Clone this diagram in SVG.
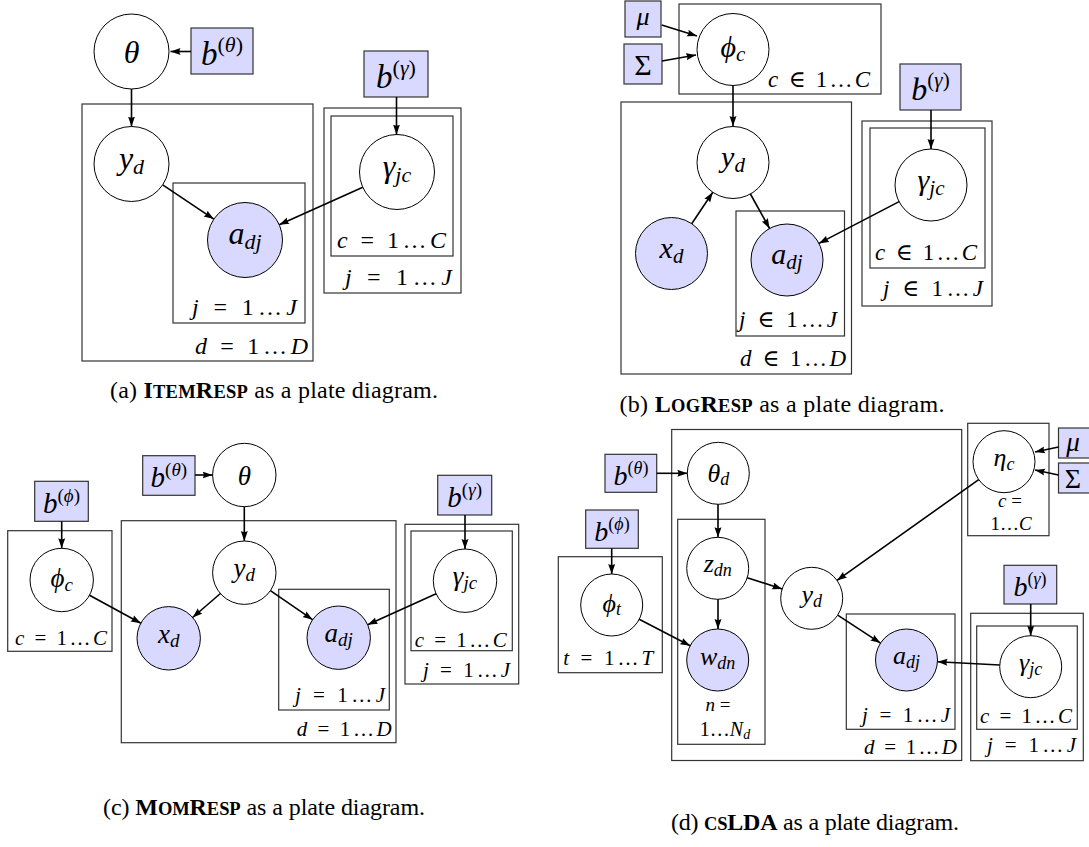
<svg xmlns="http://www.w3.org/2000/svg" width="1089" height="847" viewBox="0 0 1089 847">
<style>
.plate{fill:none;stroke:#333;stroke-width:1.2}
.node{fill:#fff;stroke:#000;stroke-width:1}
.obs{fill:#d9d9ff;stroke:#000;stroke-width:1}
.hyp{fill:#d9d9ff;stroke:#333;stroke-width:1.2}
.edge{fill:none;stroke:#000;stroke-width:1.6;marker-end:url(#ah)}
text{font-family:"Liberation Serif","DejaVu Serif",serif;fill:#000}
.nl{font-style:italic;text-anchor:middle}
.up{font-style:normal}
.pl{font-style:normal}
.i{font-style:italic}
.cap{font-size:24px;text-anchor:middle}
.sc{font-size:18.5px}
</style>
<defs>
<marker id="ah" markerWidth="11" markerHeight="8" refX="10" refY="4" orient="auto" markerUnits="userSpaceOnUse"><path d="M0,0.5 L10,4 L0,7.5 Q2.2,4 0,0.5 z" fill="#000"/></marker>
</defs>
<rect width="1089" height="847" fill="#fff"/>

<!-- ===== Panel (a) ===== -->
<g id="a-plates">
<rect class="plate" x="82" y="104" width="231" height="257"/>
<rect class="plate" x="173" y="183" width="132" height="140"/>
<rect class="plate" x="324" y="108" width="137" height="185"/>
<rect class="plate" x="331" y="116" width="122" height="140"/>
<text class="pl" x="297" y="315" text-anchor="end" font-size="24" textLength="105"><tspan class="i">j</tspan> = 1…<tspan class="i">J</tspan></text>
<text class="pl" x="308" y="354" text-anchor="end" font-size="24" textLength="113"><tspan class="i">d</tspan> = 1…<tspan class="i">D</tspan></text>
<text class="pl" x="446" y="248" text-anchor="end" font-size="24" textLength="109"><tspan class="i">c</tspan> = 1…<tspan class="i">C</tspan></text>
<text class="pl" x="452" y="285" text-anchor="end" font-size="24" textLength="107"><tspan class="i">j</tspan> = 1…<tspan class="i">J</tspan></text>
</g>
<g id="a-theta"><circle class="node" cx="131.5" cy="51.5" r="37.5"/><text class="nl" x="131.5" y="62.5" font-size="32">θ</text></g>
<g id="a-btheta"><rect class="hyp" x="191" y="28" width="62" height="46"/><text class="nl" x="222" y="65" font-size="33">b<tspan font-size="22" dy="-13"><tspan class="up">(</tspan>θ<tspan class="up">)</tspan></tspan></text></g>
<g id="a-yd"><circle class="node" cx="131.5" cy="164" r="37.5"/><text class="nl" x="131.5" y="169" font-size="32">y<tspan font-size="22" dy="5">d</tspan></text></g>
<g id="a-adj"><circle class="obs" cx="245" cy="240" r="37.5"/><text class="nl" x="245" y="244" font-size="32">a<tspan font-size="22" dy="5">dj</tspan></text></g>
<g id="a-gamma"><circle class="node" cx="397" cy="172" r="37.5"/><text class="nl" x="397" y="177" font-size="32">γ<tspan font-size="22" dy="5">jc</tspan></text></g>
<g id="a-bgamma"><rect class="hyp" x="364" y="51" width="64" height="46"/><text class="nl" x="396" y="88" font-size="33">b<tspan font-size="22" dy="-13"><tspan class="up">(</tspan>γ<tspan class="up">)</tspan></tspan></text></g>
<g id="a-edges">
<path class="edge" d="M191,51.5 L170.5,51.5"/>
<path class="edge" d="M131.5,89 L131.5,126.5"/>
<path class="edge" d="M162.7,184.9 L213.8,219.1"/>
<path class="edge" d="M396.5,97 L396.5,134.5"/>
<path class="edge" d="M362.8,187.3 L279.2,224.7"/>
</g>
<text class="cap" x="274" y="398" textLength="328"><tspan>(a) </tspan><tspan font-weight="bold">I<tspan class="sc">TEM</tspan>R<tspan class="sc">ESP</tspan></tspan> as a plate diagram.</text>

<!-- ===== Panel (b) ===== -->
<g id="b-plates">
<rect class="plate" x="679" y="4" width="202" height="90"/>
<rect class="plate" x="621" y="102" width="230.5" height="272"/>
<rect class="plate" x="736" y="211" width="108.5" height="125"/>
<rect class="plate" x="862" y="121" width="130" height="185"/>
<rect class="plate" x="870" y="128" width="115" height="140"/>
<text class="pl" x="870" y="87" text-anchor="end" font-size="23" textLength="102"><tspan class="i">c</tspan> ∈ 1…<tspan class="i">C</tspan></text>
<text class="pl" x="739" y="327" font-size="23" textLength="98"><tspan class="i">j</tspan> ∈ 1…<tspan class="i">J</tspan></text>
<text class="pl" x="846" y="366" text-anchor="end" font-size="23" textLength="106"><tspan class="i">d</tspan> ∈ 1…<tspan class="i">D</tspan></text>
<text class="pl" x="977" y="260" text-anchor="end" font-size="23" textLength="102"><tspan class="i">c</tspan> ∈ 1…<tspan class="i">C</tspan></text>
<text class="pl" x="983" y="296" text-anchor="end" font-size="23" textLength="100"><tspan class="i">j</tspan> ∈ 1…<tspan class="i">J</tspan></text>
</g>
<g id="b-mu"><rect class="hyp" x="625" y="1" width="36" height="36"/><text class="nl" x="643" y="25" font-size="26">μ</text></g>
<g id="b-sigma"><rect class="hyp" x="624" y="44" width="38" height="40"/><text class="nl up" x="643" y="75" font-size="30">Σ</text></g>
<g id="b-phi"><circle class="node" cx="733" cy="49.5" r="36"/><text class="nl" x="733" y="57" font-size="30">ϕ<tspan font-size="21" dy="4">c</tspan></text></g>
<g id="b-yd"><circle class="node" cx="733" cy="162.5" r="36"/><text class="nl" x="733" y="167" font-size="30">y<tspan font-size="21" dy="5">d</tspan></text></g>
<g id="b-xd"><circle class="obs" cx="671.5" cy="253.5" r="36"/><text class="nl" x="671.5" y="258" font-size="30">x<tspan font-size="21" dy="5">d</tspan></text></g>
<g id="b-adj"><circle class="obs" cx="787" cy="260" r="36"/><text class="nl" x="787" y="264" font-size="30">a<tspan font-size="21" dy="5">dj</tspan></text></g>
<g id="b-gamma"><circle class="node" cx="931" cy="185" r="36"/><text class="nl" x="931" y="190" font-size="30">γ<tspan font-size="21" dy="5">jc</tspan></text></g>
<g id="b-bgamma"><rect class="hyp" x="900" y="64" width="61" height="46"/><text class="nl" x="930.5" y="100" font-size="32">b<tspan font-size="21" dy="-13"><tspan class="up">(</tspan>γ<tspan class="up">)</tspan></tspan></text></g>
<g id="b-edges">
<path class="edge" d="M661.7,25 L697,36"/>
<path class="edge" d="M662,61 L696,55"/>
<path class="edge" d="M733,85.5 L733,126"/>
<path class="edge" d="M691.7,223.7 L712.8,192.3"/>
<path class="edge" d="M750.4,194 L769.6,228.5"/>
<path class="edge" d="M931,110 L931,149"/>
<path class="edge" d="M899.1,201.6 L818.9,243.4"/>
</g>
<text class="cap" x="782" y="412" textLength="325"><tspan>(b) </tspan><tspan font-weight="bold">L<tspan class="sc">OG</tspan>R<tspan class="sc">ESP</tspan></tspan> as a plate diagram.</text>

<!-- ===== Panel (c) ===== -->
<g id="c-plates">
<rect class="plate" x="7.7" y="530.7" width="104.3" height="120.6"/>
<rect class="plate" x="121.3" y="520.7" width="274.7" height="222"/>
<rect class="plate" x="278.7" y="589.3" width="110.6" height="120.7"/>
<rect class="plate" x="405" y="524.3" width="113.7" height="159.7"/>
<rect class="plate" x="411" y="531" width="101.3" height="119.7"/>
<text class="pl" x="15" y="645" font-size="21" textLength="92"><tspan class="i">c</tspan> = 1…<tspan class="i">C</tspan></text>
<text class="pl" x="385" y="701.7" text-anchor="end" font-size="21" textLength="90"><tspan class="i">j</tspan> = 1…<tspan class="i">J</tspan></text>
<text class="pl" x="391.7" y="736" text-anchor="end" font-size="21" textLength="95"><tspan class="i">d</tspan> = 1…<tspan class="i">D</tspan></text>
<text class="pl" x="506.7" y="646.7" text-anchor="end" font-size="21" textLength="92"><tspan class="i">c</tspan> = 1…<tspan class="i">C</tspan></text>
<text class="pl" x="510" y="676.7" text-anchor="end" font-size="21" textLength="87"><tspan class="i">j</tspan> = 1…<tspan class="i">J</tspan></text>
</g>
<g id="c-btheta"><rect class="hyp" x="142.7" y="455.7" width="52.3" height="39.6"/><text class="nl" x="168.8" y="487" font-size="29">b<tspan font-size="19" dy="-11"><tspan class="up">(</tspan>θ<tspan class="up">)</tspan></tspan></text></g>
<g id="c-theta"><circle class="node" cx="244.3" cy="475" r="31.7"/><text class="nl" x="244.3" y="484.5" font-size="27">θ</text></g>
<g id="c-bphi"><rect class="hyp" x="34.7" y="481.3" width="53.6" height="40"/><text class="nl" x="61.5" y="513" font-size="29">b<tspan font-size="19" dy="-11"><tspan class="up">(</tspan>ϕ<tspan class="up">)</tspan></tspan></text></g>
<g id="c-phi"><circle class="node" cx="61.7" cy="580" r="31.7"/><text class="nl" x="61.7" y="587" font-size="27">ϕ<tspan font-size="19" dy="4">c</tspan></text></g>
<g id="c-yd"><circle class="node" cx="244.3" cy="572.7" r="31.7"/><text class="nl" x="244.3" y="577" font-size="27">y<tspan font-size="19" dy="4">d</tspan></text></g>
<g id="c-xd"><circle class="obs" cx="168.7" cy="638.3" r="31.7"/><text class="nl" x="168.7" y="643" font-size="27">x<tspan font-size="19" dy="4">d</tspan></text></g>
<g id="c-adj"><circle class="obs" cx="338.7" cy="637.7" r="31.7"/><text class="nl" x="338.7" y="642" font-size="27">a<tspan font-size="19" dy="4">dj</tspan></text></g>
<g id="c-gamma"><circle class="node" cx="465" cy="580.7" r="31.7"/><text class="nl" x="465" y="585" font-size="27">γ<tspan font-size="19" dy="4">jc</tspan></text></g>
<g id="c-bgamma"><rect class="hyp" x="437.7" y="475.3" width="54" height="39.7"/><text class="nl" x="464.7" y="507" font-size="29">b<tspan font-size="19" dy="-11"><tspan class="up">(</tspan>γ<tspan class="up">)</tspan></tspan></text></g>
<g id="c-edges">
<path class="edge" d="M195,475 L212.6,475"/>
<path class="edge" d="M61.7,521.3 L61.7,548.3"/>
<path class="edge" d="M244.3,506.7 L244.3,541"/>
<path class="edge" d="M220.4,593.5 L192.6,617.5"/>
<path class="edge" d="M270.4,590.7 L312.6,619.7"/>
<path class="edge" d="M89.5,595.2 L140.9,623.2"/>
<path class="edge" d="M465,515 L465,549"/>
<path class="edge" d="M436.1,593.7 L367.6,624.7"/>
</g>
<text class="cap" x="264" y="815" textLength="322"><tspan>(c) </tspan><tspan font-weight="bold">M<tspan class="sc">OM</tspan>R<tspan class="sc">ESP</tspan></tspan> as a plate diagram.</text>

<!-- ===== Panel (d) ===== -->
<g id="d-plates">
<rect class="plate" x="671.7" y="429.5" width="290" height="331"/>
<rect class="plate" x="677.7" y="519.3" width="87.3" height="225"/>
<rect class="plate" x="558.3" y="556.7" width="104" height="116"/>
<rect class="plate" x="846.3" y="614" width="108.7" height="115.3"/>
<rect class="plate" x="967.7" y="423.3" width="81.3" height="112.4"/>
<rect class="plate" x="970.7" y="613.3" width="112.6" height="147.4"/>
<rect class="plate" x="976.7" y="626" width="100.6" height="103.3"/>
<text class="pl" x="653.3" y="665" text-anchor="end" font-size="21" textLength="90"><tspan class="i">t</tspan> = 1…<tspan class="i">T</tspan></text>
<text class="pl" x="718" y="710.5" text-anchor="middle" font-size="19"><tspan class="i">n</tspan> =</text>
<text class="pl" x="725" y="736" text-anchor="middle" font-size="20">1…<tspan class="i">N</tspan><tspan class="i" font-size="14" dy="3">d</tspan></text>
<text class="pl" x="950" y="721.7" text-anchor="end" font-size="21" textLength="88"><tspan class="i">j</tspan> = 1…<tspan class="i">J</tspan></text>
<text class="pl" x="957" y="754" text-anchor="end" font-size="21" textLength="93"><tspan class="i">d</tspan> = 1…<tspan class="i">D</tspan></text>
<text class="pl" x="1010" y="507" text-anchor="middle" font-size="19"><tspan class="i">c</tspan> =</text>
<text class="pl" x="1011" y="529.5" text-anchor="middle" font-size="19">1…<tspan class="i">C</tspan></text>
<text class="pl" x="1072" y="723.3" text-anchor="end" font-size="21" textLength="92"><tspan class="i">c</tspan> = 1…<tspan class="i">C</tspan></text>
<text class="pl" x="1076" y="751.7" text-anchor="end" font-size="21" textLength="89"><tspan class="i">j</tspan> = 1…<tspan class="i">J</tspan></text>
</g>
<g id="d-btheta"><rect class="hyp" x="605" y="454.3" width="51.7" height="38"/><text class="nl" x="631" y="485" font-size="28">b<tspan font-size="18" dy="-11"><tspan class="up">(</tspan>θ<tspan class="up">)</tspan></tspan></text></g>
<g id="d-theta"><circle class="node" cx="718.3" cy="473.3" r="31"/><text class="nl" x="718.3" y="482" font-size="26">θ<tspan font-size="18" dy="3">d</tspan></text></g>
<g id="d-z"><circle class="node" cx="717.7" cy="568.3" r="31"/><text class="nl" x="717.7" y="572" font-size="26">z<tspan font-size="18" dy="4">dn</tspan></text></g>
<g id="d-w"><circle class="obs" cx="717.7" cy="660" r="31"/><text class="nl" x="717.7" y="665" font-size="26">w<tspan font-size="18" dy="4">dn</tspan></text></g>
<g id="d-bphi"><rect class="hyp" x="585.7" y="510" width="52.6" height="38.3"/><text class="nl" x="612" y="541" font-size="28">b<tspan font-size="18" dy="-11"><tspan class="up">(</tspan>ϕ<tspan class="up">)</tspan></tspan></text></g>
<g id="d-phi"><circle class="node" cx="611.7" cy="605" r="31"/><text class="nl" x="611.7" y="612" font-size="26">ϕ<tspan font-size="18" dy="3">t</tspan></text></g>
<g id="d-yd"><circle class="node" cx="811.7" cy="598.3" r="31"/><text class="nl" x="811.7" y="603" font-size="26">y<tspan font-size="18" dy="4">d</tspan></text></g>
<g id="d-adj"><circle class="obs" cx="906.5" cy="660" r="31"/><text class="nl" x="906.5" y="664" font-size="26">a<tspan font-size="18" dy="4">dj</tspan></text></g>
<g id="d-eta"><circle class="node" cx="1004" cy="461.7" r="31"/><text class="nl" x="1004" y="466" font-size="26">η<tspan font-size="18" dy="4">c</tspan></text></g>
<g id="d-mu"><rect class="hyp" x="1058.5" y="428" width="40" height="30"/><text class="nl" x="1073" y="451" font-size="27">μ</text></g>
<g id="d-sigma"><rect class="hyp" x="1058.5" y="463" width="40" height="30"/><text class="nl up" x="1073" y="488" font-size="28">Σ</text></g>
<g id="d-gamma"><circle class="node" cx="1030.7" cy="666.7" r="31"/><text class="nl" x="1030.7" y="671" font-size="26">γ<tspan font-size="18" dy="4">jc</tspan></text></g>
<g id="d-bgamma"><rect class="hyp" x="1004" y="565.3" width="52.7" height="38.7"/><text class="nl" x="1030" y="596" font-size="28">b<tspan font-size="18" dy="-11"><tspan class="up">(</tspan>γ<tspan class="up">)</tspan></tspan></text></g>
<g id="d-edges">
<path class="edge" d="M656.7,473.3 L687.3,473.3"/>
<path class="edge" d="M718,504.3 L718,537.3"/>
<path class="edge" d="M718,599.3 L718,629"/>
<path class="edge" d="M611.7,548.3 L611.7,574"/>
<path class="edge" d="M639.2,619.3 L690.2,645.7"/>
<path class="edge" d="M747.2,577.7 L782.2,588.9"/>
<path class="edge" d="M837.7,615.2 L880.5,643.1"/>
<path class="edge" d="M978.7,479.6 L837,580.4"/>
<path class="edge" d="M1058.5,447 L1035,452"/>
<path class="edge" d="M1058.5,475 L1035,470"/>
<path class="edge" d="M1030.7,604 L1030.7,635.7"/>
<path class="edge" d="M999.7,665 L937.5,661.7"/>
</g>
<text class="cap" x="815" y="830" textLength="288"><tspan>(d) </tspan><tspan font-weight="bold"><tspan class="sc">CS</tspan>LDA</tspan> as a plate diagram.</text>
</svg>
